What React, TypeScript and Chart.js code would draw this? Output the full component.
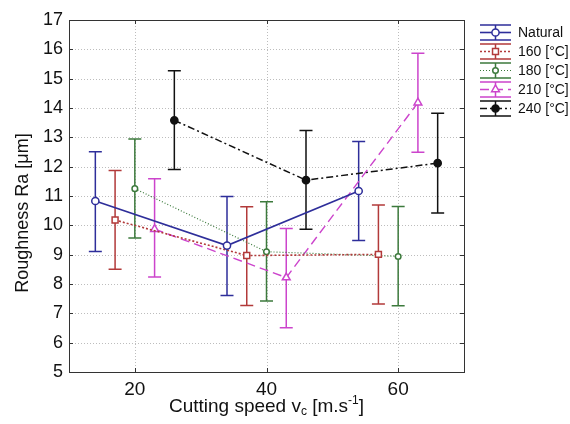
import React, { useEffect, useRef } from "react";
import { Chart, registerables } from "chart.js";

Chart.register(...registerables);

// ---- data ----
const seriesNames = ["Natural", "160 [°C]", "180 [°C]", "210 [°C]", "240 [°C]"];

const naturalX = [14, 34, 54];
const naturalY = [10.83, 9.31, 11.17];
const naturalLow = [9.11, 7.61, 9.48];
const naturalHigh = [12.51, 10.98, 12.86];

const t160X = [17, 37, 57];
const t160Y = [10.18, 8.97, 9.01];
const t160Low = [8.5, 7.27, 7.32];
const t160High = [11.87, 10.63, 10.69];

const t180X = [20, 40, 60];
const t180Y = [11.25, 9.1, 8.94];
const t180Low = [9.57, 7.42, 7.26];
const t180High = [12.94, 10.8, 10.64];

const t210X = [23, 43, 63];
const t210Y = [9.87, 8.22, 14.18];
const t210Low = [8.24, 6.51, 12.49];
const t210High = [11.59, 9.89, 15.87];

const t240X = [26, 46, 66];
const t240Y = [13.58, 11.54, 12.12];
const t240Low = [11.9, 9.87, 10.42];
const t240High = [15.27, 13.23, 13.82];

const xTickValues = [20, 40, 60];
const yTickMin = 5;
const yTickMax = 17;
const xMin = 10;
const xMax = 70;

const FONT = "'Liberation Sans', Arial, Helvetica, sans-serif";

type SeriesStyle = {
  color: string;
  dash: number[];
  width: number;
  pointStyle: string;
  radius: number;
  fill: string;
};

const styles: SeriesStyle[] = [
  { color: "#2e2e9a", dash: [], width: 1.6, pointStyle: "circle", radius: 3.6, fill: "#ffffff" },
  { color: "#b23a3a", dash: [2, 2], width: 1.6, pointStyle: "rect", radius: 4.2, fill: "#ffffff" },
  { color: "#3c7a3c", dash: [1, 2], width: 1.2, pointStyle: "circle", radius: 2.8, fill: "#ffffff" },
  { color: "#cc44cc", dash: [9, 5], width: 1.4, pointStyle: "triangle", radius: 4.5, fill: "#ffffff" },
  { color: "#111111", dash: [7, 3, 2, 3], width: 1.5, pointStyle: "circle", radius: 3.6, fill: "#111111" },
];

const allX = [naturalX, t160X, t180X, t210X, t240X];
const allY = [naturalY, t160Y, t180Y, t210Y, t240Y];
const allLow = [naturalLow, t160Low, t180Low, t210Low, t240Low];
const allHigh = [naturalHigh, t160High, t180High, t210High, t240High];

const gridAndErrorPlugin = {
  id: "gridAndErrors",
  beforeDatasetsDraw(chart: any) {
    const ctx = chart.ctx;
    const xs = chart.scales.x;
    const ys = chart.scales.y;
    const a = chart.chartArea;
    // dotted grid
    ctx.save();
    ctx.strokeStyle = "#bdbdbd";
    ctx.lineWidth = 1;
    ctx.setLineDash([1, 2]);
    ctx.beginPath();
    for (let v = yTickMin + 1; v < yTickMax; v++) {
      const py = Math.round(ys.getPixelForValue(v)) + 0.5;
      ctx.moveTo(a.left, py);
      ctx.lineTo(a.right, py);
    }
    xTickValues.forEach((v) => {
      const px = Math.round(xs.getPixelForValue(v)) + 0.5;
      ctx.moveTo(px, a.bottom);
      ctx.lineTo(px, a.top);
    });
    ctx.stroke();
    ctx.restore();

    chart.data.datasets.forEach((ds: any, i: number) => {
      const st = styles[i];
      ctx.save();
      ctx.strokeStyle = st.color;
      ctx.lineWidth = 1.5;
      ctx.setLineDash([]);
      ds.errLow.forEach((lo: number, j: number) => {
        const px = xs.getPixelForValue(ds.data[j].x);
        const pLo = ys.getPixelForValue(lo);
        const pHi = ys.getPixelForValue(ds.errHigh[j]);
        ctx.beginPath();
        ctx.moveTo(px, pLo);
        ctx.lineTo(px, pHi);
        ctx.moveTo(px - 6.5, pLo);
        ctx.lineTo(px + 6.5, pLo);
        ctx.moveTo(px - 6.5, pHi);
        ctx.lineTo(px + 6.5, pHi);
        ctx.stroke();
      });
      ctx.restore();
    });
  },
};

const framePlugin = {
  id: "frame",
  afterDraw(chart: any) {
    const ctx = chart.ctx;
    const a = chart.chartArea;
    const xs = chart.scales.x;
    const ys = chart.scales.y;
    ctx.save();
    ctx.strokeStyle = "#333333";
    ctx.lineWidth = 1;
    ctx.setLineDash([]);
    ctx.strokeRect(Math.round(a.left) + 0.5, Math.round(a.top) + 0.5, Math.round(a.right - a.left), Math.round(a.bottom - a.top));
    // inward ticks
    ctx.beginPath();
    for (let v = yTickMin; v <= yTickMax; v++) {
      const py = Math.round(ys.getPixelForValue(v)) + 0.5;
      ctx.moveTo(a.left, py);
      ctx.lineTo(a.left + 4, py);
      ctx.moveTo(a.right, py);
      ctx.lineTo(a.right - 4, py);
    }
    xTickValues.forEach((v) => {
      const px = Math.round(xs.getPixelForValue(v)) + 0.5;
      ctx.moveTo(px, a.bottom);
      ctx.lineTo(px, a.bottom - 4);
      ctx.moveTo(px, a.top);
      ctx.lineTo(px, a.top + 4);
    });
    ctx.stroke();

    // y title
    ctx.fillStyle = "#111111";
    ctx.font = `18px ${FONT}`;
    ctx.textAlign = "center";
    ctx.textBaseline = "middle";
    ctx.save();
    ctx.translate(23, 213);
    ctx.rotate(-Math.PI / 2);
    ctx.fillText("Roughness Ra [μm]", 0, 0);
    ctx.restore();

    // x title with subscript / superscript
    const parts: { t: string; size: number; dy: number }[] = [
      { t: "Cutting speed v", size: 19, dy: 0 },
      { t: "c", size: 12, dy: 3 },
      { t: " [m.s", size: 19, dy: 0 },
      { t: "-1", size: 12, dy: -8 },
      { t: "]", size: 19, dy: 0 },
    ];
    let total = 0;
    parts.forEach((p) => {
      ctx.font = `${p.size}px ${FONT}`;
      total += ctx.measureText(p.t).width;
    });
    let cx = (a.left + a.right) / 2 - total / 2;
    const baseY = 412;
    ctx.textAlign = "left";
    ctx.textBaseline = "alphabetic";
    parts.forEach((p) => {
      ctx.font = `${p.size}px ${FONT}`;
      ctx.fillText(p.t, cx, baseY + p.dy);
      cx += ctx.measureText(p.t).width;
    });

    // legend
    const lx0 = 480;
    const lx1 = 511;
    const lmid = (lx0 + lx1) / 2;
    seriesNames.forEach((name, i) => {
      const st = styles[i];
      const cy = 32.5 + i * 19;
      ctx.save();
      ctx.strokeStyle = st.color;
      ctx.lineWidth = 1.5;
      ctx.setLineDash([]);
      ctx.beginPath();
      ctx.moveTo(lx0, cy - 7.5);
      ctx.lineTo(lx1, cy - 7.5);
      ctx.moveTo(lx0, cy + 7.5);
      ctx.lineTo(lx1, cy + 7.5);
      ctx.moveTo(lmid, cy - 7.5);
      ctx.lineTo(lmid, cy + 7.5);
      ctx.stroke();
      ctx.lineWidth = st.width;
      ctx.setLineDash(st.dash);
      ctx.beginPath();
      ctx.moveTo(lx0, cy);
      ctx.lineTo(lx1, cy);
      ctx.stroke();
      ctx.setLineDash([]);
      ctx.fillStyle = st.fill;
      ctx.lineWidth = 1.5;
      ctx.beginPath();
      const r = st.radius;
      if (st.pointStyle === "rect") {
        const s = r * Math.SQRT1_2;
        ctx.rect(lmid - s, cy - s, 2 * s, 2 * s);
      } else if (st.pointStyle === "triangle") {
        ctx.moveTo(lmid, cy - r);
        ctx.lineTo(lmid + r * 0.866, cy + r * 0.5);
        ctx.lineTo(lmid - r * 0.866, cy + r * 0.5);
        ctx.closePath();
      } else {
        ctx.arc(lmid, cy, r, 0, Math.PI * 2);
      }
      ctx.fill();
      ctx.stroke();
      ctx.restore();
      ctx.fillStyle = "#111111";
      ctx.font = `14px ${FONT}`;
      ctx.textAlign = "left";
      ctx.textBaseline = "middle";
      ctx.fillText(name, 518, cy + 0.5);
    });
    ctx.restore();
  },
};

export default function App() {
  const ref = useRef<HTMLCanvasElement | null>(null);

  useEffect(() => {
    document.body.style.margin = "0";
    if (!ref.current) return;
    const datasets = seriesNames.map((name, i) => {
      const st = styles[i];
      return {
        label: name,
        data: allX[i].map((x, j) => ({ x, y: allY[i][j] })),
        errLow: allLow[i],
        errHigh: allHigh[i],
        showLine: true,
        borderColor: st.color,
        borderWidth: st.width,
        borderDash: st.dash,
        backgroundColor: st.fill,
        pointStyle: st.pointStyle,
        pointRadius: st.radius,
        pointBorderWidth: 1.5,
        pointBackgroundColor: st.fill,
        pointBorderColor: st.color,
        tension: 0,
      };
    });
    const chart = new Chart(ref.current, {
      type: "scatter",
      data: { datasets: datasets as any },
      options: {
        animation: false,
        responsive: true,
        maintainAspectRatio: false,
        layout: { padding: { left: 0, top: 20, right: 106, bottom: 0 } },
        plugins: { legend: { display: false }, tooltip: { enabled: false } },
        scales: {
          x: {
            type: "linear",
            min: xMin,
            max: xMax,
            afterBuildTicks: (scale: any) => {
              scale.ticks = xTickValues.map((v) => ({ value: v }));
            },
            afterFit: (scale: any) => {
              scale.height = 52;
            },
            grid: { display: false, drawTicks: false },
            border: { display: false },
            ticks: { font: { size: 19, family: FONT }, color: "#111111", padding: 6 },
          },
          y: {
            type: "linear",
            min: yTickMin,
            max: yTickMax,
            afterFit: (scale: any) => {
              scale.width = 69;
            },
            grid: { display: false, drawTicks: false },
            border: { display: false },
            ticks: { stepSize: 1, font: { size: 18, family: FONT }, color: "#111111", padding: 6 },
          },
        },
      },
      plugins: [gridAndErrorPlugin, framePlugin],
    });
    return () => chart.destroy();
  }, []);

  return (
    <div style={{ width: 570, height: 424, position: "relative", background: "#ffffff" }}>
      <canvas ref={ref} />
    </div>
  );
}
